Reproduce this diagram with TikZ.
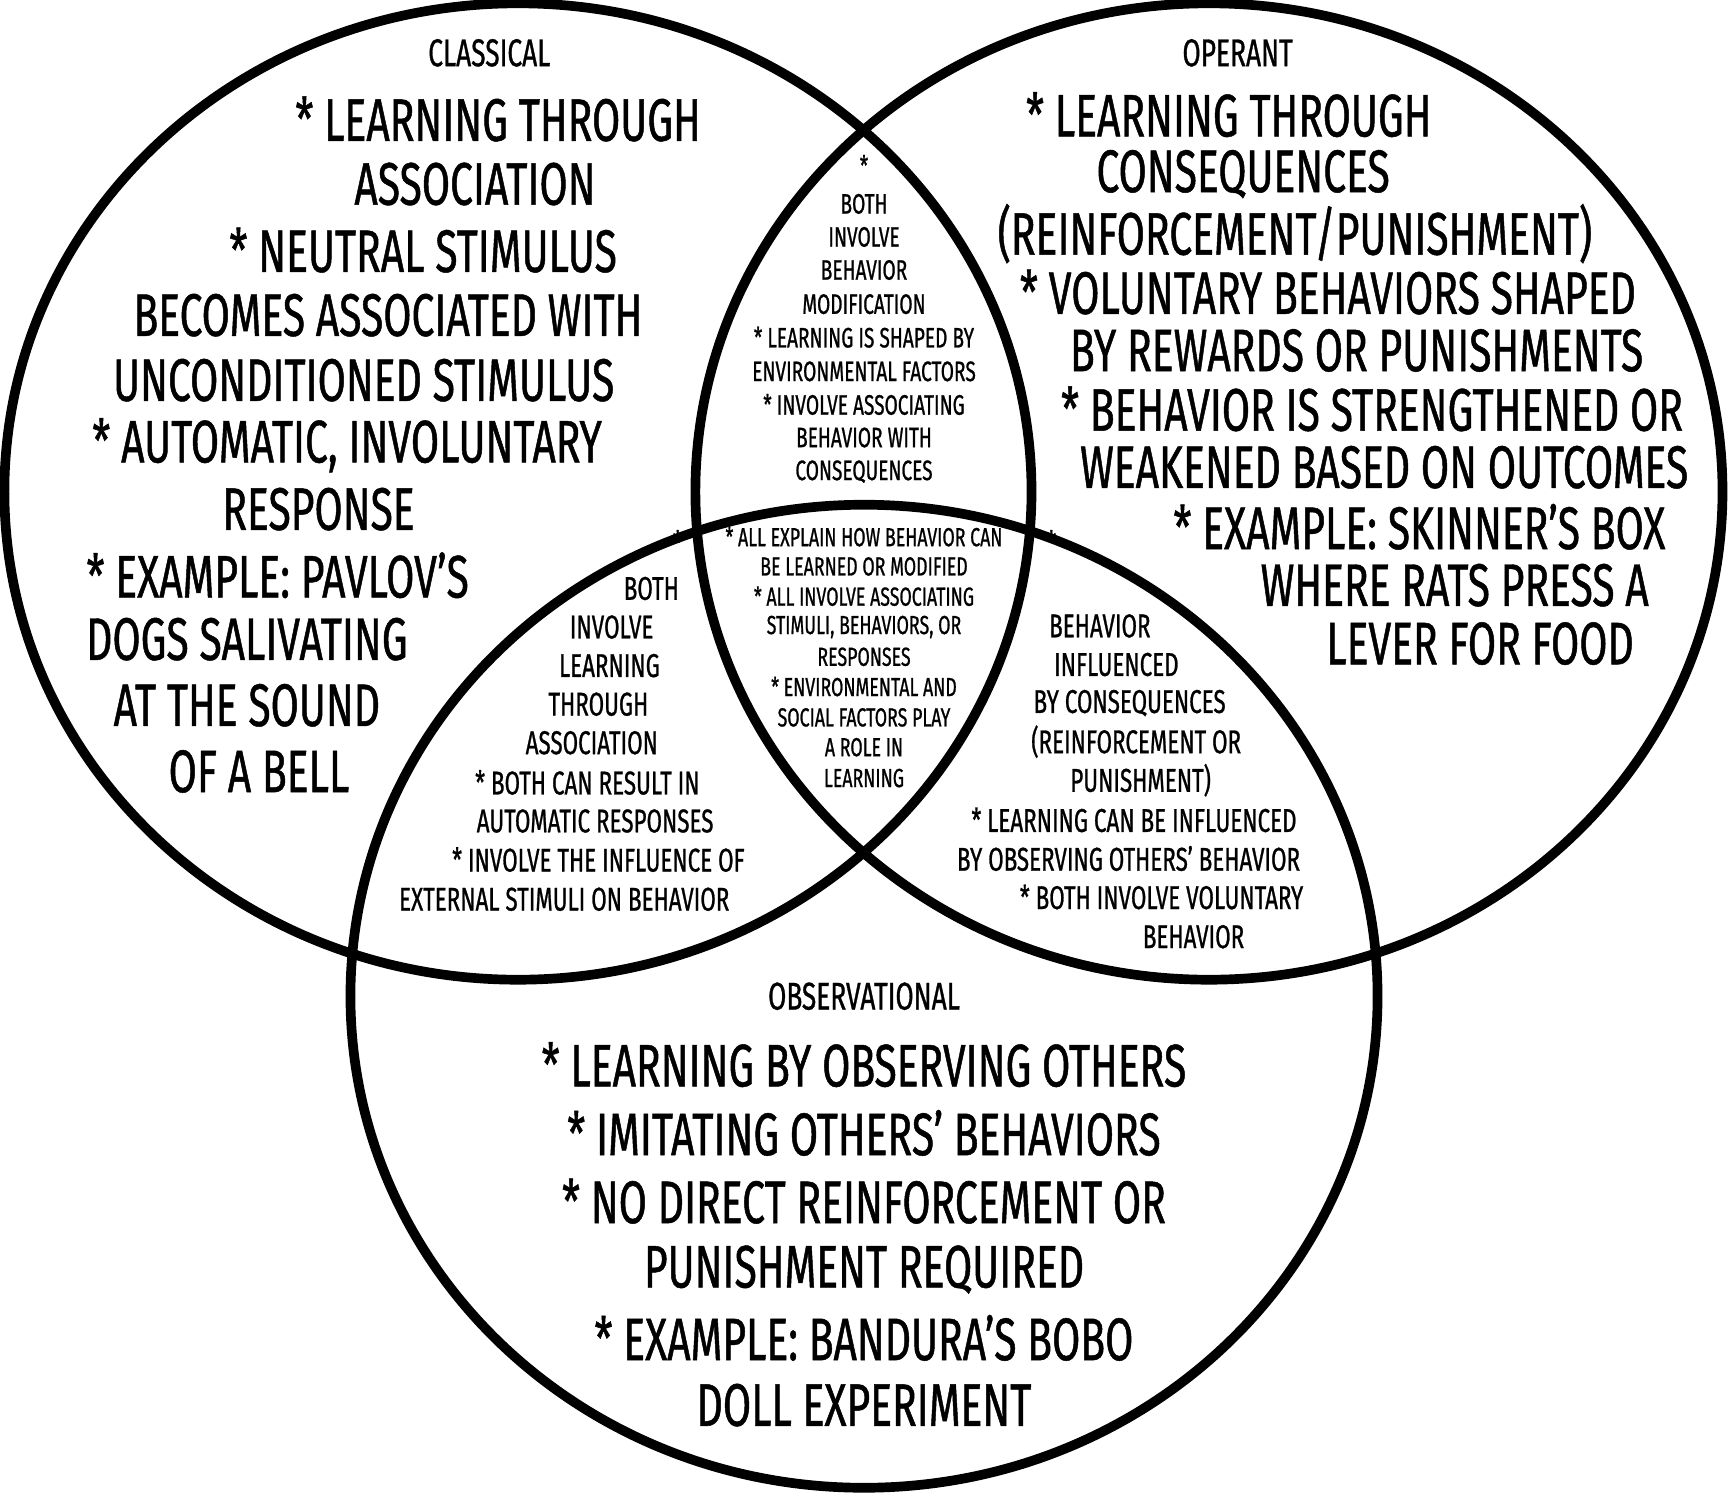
\documentclass[tikz,border=0pt]{standalone}
\usepackage{fontspec}
\setmainfont{Fira Sans}[FakeStretch=0.68,FakeBold=0.8]
\begin{document}
\begin{tikzpicture}[x=0.02cm,y=-0.02cm,
  ring/.style={draw,line width=5pt},
  big/.style={font=\fontsize{31}{31}\selectfont,inner sep=0},
  head/.style={font=\fontsize{20}{20}\selectfont,inner sep=0},
  mid/.style={font=\fontsize{17}{17}\selectfont,inner sep=0},
  sml/.style={font=\fontsize{14.5}{14.5}\selectfont,inner sep=0}]
\useasboundingbox (0,0) rectangle (1568,1354);
\draw[ring] (470,446) ellipse[x radius=466, y radius=443];
\draw[ring] (1097,446) ellipse[x radius=466, y radius=443];
\draw[ring] (784,904) ellipse[x radius=466, y radius=446];
% classical
\node[head] (ch) at (444,48) {CLASSICAL};
\foreach \x/\y/\t [count=\i] in {452/108/{* LEARNING THROUGH},431/167/ASSOCIATION,384/227/{* NEUTRAL STIMULUS},352/286/{BECOMES ASSOCIATED WITH},330/345/{UNCONDITIONED STIMULUS},315/404/{* AUTOMATIC, INVOLUNTARY},289/462/RESPONSE,252/522/{* EXAMPLE: PAVLOV’S},224/580/{DOGS SALIVATING},224/640/{AT THE SOUND},235/700/{OF A BELL}}
  \node[big] (c\i) at (\x,\y) {\t};
% operant
\node[head] (oh) at (1123,48) {OPERANT};
\foreach \x/\y/\t [count=\i] in {1115/104/{* LEARNING THROUGH},1128/158/CONSEQUENCES,1175/212/{(REINFORCEMENT/PUNISHMENT)},1205/265/{* VOLUNTARY BEHAVIORS SHAPED},1231/318/{BY REWARDS OR PUNISHMENTS},1245/371/{* BEHAVIOR IS STRENGTHENED OR},1256/424/{WEAKENED BASED ON OUTCOMES},1288/478/{* EXAMPLE: SKINNER’S BOX},1320/531/{WHERE RATS PRESS A},1343/584/{LEVER FOR FOOD}}
  \node[big] (o\i) at (\x,\y) {\t};
% observational
\node[head] (bh) at (784,904) {OBSERVATIONAL};
\foreach \y/\t [count=\i] in {966/{* LEARNING BY OBSERVING OTHERS},1028/{* IMITATING OTHERS’ BEHAVIORS},1090/{* NO DIRECT REINFORCEMENT OR},1152/{PUNISHMENT REQUIRED},1214/{* EXAMPLE: BANDURA’S BOBO},1275/{DOLL EXPERIMENT}}
  \node[big] (b\i) at (784,\y) {\t};
% classical-operant
\foreach \y/\t [count=\i] in {150/*,185/BOTH,215/INVOLVE,245/BEHAVIOR,276/MODIFICATION,306/{* LEARNING IS SHAPED BY},337/{ENVIRONMENTAL FACTORS},367/{* INVOLVE ASSOCIATING},397/{BEHAVIOR WITH},428/CONSEQUENCES}
  \node[sml] (co\i) at (784,\y) {\t};
% center
\foreach \y/\t [count=\i] in {487/{* ALL EXPLAIN HOW BEHAVIOR CAN},514/{BE LEARNED OR MODIFIED},541/{* ALL INVOLVE ASSOCIATING},569/{STIMULI, BEHAVIORS, OR},596/RESPONSES,623/{* ENVIRONMENTAL AND},651/{SOCIAL FACTORS PLAY},678/{A ROLE IN},706/LEARNING}
  \node[sml,font=\fontsize{13.5}{13.5}\selectfont] (all\i) at (784,\y) {\t};
% classical-observational
\foreach \x/\y/\t [count=\i] in {615/492/*,591/534/BOTH,555/569/INVOLVE,553/604/LEARNING,543/639/THROUGH,537/674/ASSOCIATION,533/710/{* BOTH CAN RESULT IN},540/745/{AUTOMATIC RESPONSES},543/780/{* INVOLVE THE INFLUENCE OF},512/816/{EXTERNAL STIMULI ON BEHAVIOR}}
  \node[mid] (cb\i) at (\x,\y) {\t};
% operant-observational
\foreach \x/\y/\t [count=\i] in {954/492/*,998/568/BEHAVIOR,1013/603/INFLUENCED,1025/638/{BY CONSEQUENCES},1031/673/{(REINFORCEMENT OR},1035/708/{PUNISHMENT)},1029/744/{* LEARNING CAN BE INFLUENCED},1024/779/{BY OBSERVING OTHERS' BEHAVIOR},1054/814/{* BOTH INVOLVE VOLUNTARY},1083/850/BEHAVIOR}
  \node[mid] (ob\i) at (\x,\y) {\t};
\end{tikzpicture}
\end{document}
